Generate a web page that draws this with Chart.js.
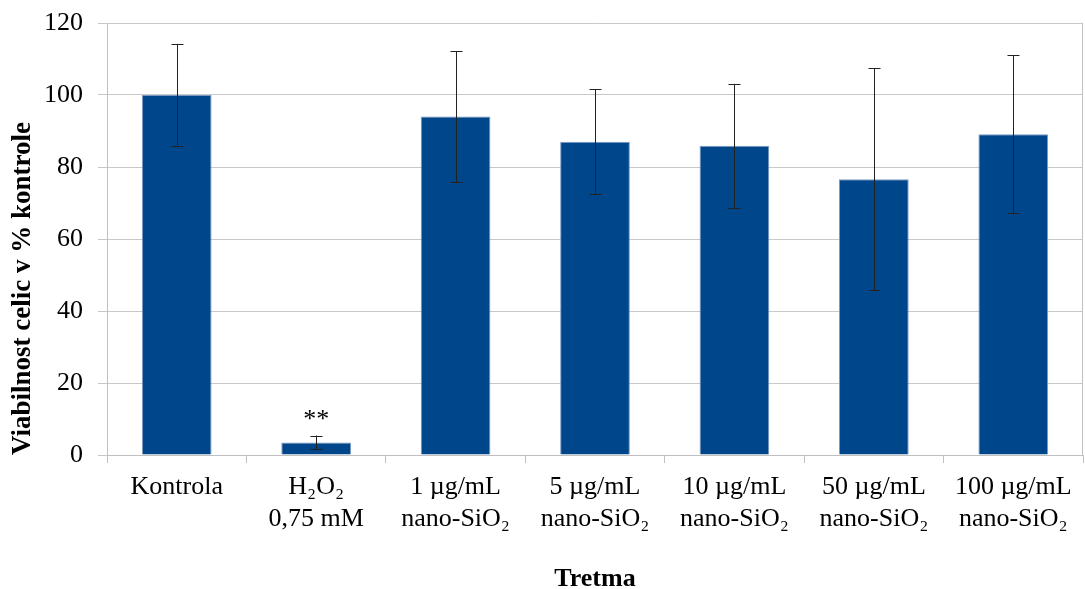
<!DOCTYPE html>
<html>
<head>
<meta charset="utf-8">
<script src="https://cdn.jsdelivr.net/npm/chart.js@4"></script>
<style>
  html, body { margin: 0; padding: 0; background: #fff; }
  #wrap { width: 1085px; height: 589px; position: relative; }
</style>
</head>
<body>
<div id="wrap"><canvas id="c" width="1085" height="589"></canvas></div>
<script>
const categories = [
  ['Kontrola'],
  ['H₂O₂', '0,75 mM'],
  ['1 µg/mL', 'nano-SiO₂'],
  ['5 µg/mL', 'nano-SiO₂'],
  ['10 µg/mL', 'nano-SiO₂'],
  ['50 µg/mL', 'nano-SiO₂'],
  ['100 µg/mL', 'nano-SiO₂']
];
const viability = [100, 3.5, 94.0, 87.0, 85.9, 76.6, 89.1];
const errors = [14.2, 1.9, 18.2, 14.6, 17.2, 30.9, 22.0];
const significance = ['', '**', '', '', '', '', ''];
const yTitle = 'Viabilnost celic v % kontrole';
const xTitle = 'Tretma';

const FONT = "'Liberation Serif', 'Times New Roman', serif";

const errorBarPlugin = {
  id: 'errorBars',
  afterDatasetsDraw(chart) {
    const ctx = chart.ctx;
    const meta = chart.getDatasetMeta(0);
    const y = chart.scales.y;
    ctx.save();
    ctx.strokeStyle = '#222';
    ctx.lineWidth = 1;
    meta.data.forEach((bar, i) => {
      const x = Math.round(bar.x) + 0.5;
      const top = y.getPixelForValue(viability[i] + errors[i]);
      const bot = y.getPixelForValue(viability[i] - errors[i]);
      ctx.beginPath();
      ctx.moveTo(x, top); ctx.lineTo(x, bot);
      ctx.moveTo(x - 6, Math.round(top) + 0.5); ctx.lineTo(x + 6, Math.round(top) + 0.5);
      ctx.moveTo(x - 6, Math.round(bot) + 0.5); ctx.lineTo(x + 6, Math.round(bot) + 0.5);
      ctx.stroke();
      if (significance[i]) {
        ctx.fillStyle = '#000';
        ctx.font = '26px ' + FONT;
        ctx.textAlign = 'center';
        ctx.textBaseline = 'alphabetic';
        ctx.fillText(significance[i], bar.x, top - 9);
      }
    });
    // right border of plot area
    const a = chart.chartArea;
    ctx.strokeStyle = '#c0c0c0';
    ctx.beginPath();
    ctx.moveTo(Math.round(a.right) - 0.5, a.top);
    ctx.lineTo(Math.round(a.right) - 0.5, a.bottom);
    ctx.stroke();
    ctx.restore();
  }
};

new Chart(document.getElementById('c'), {
  type: 'bar',
  data: {
    labels: categories,
    datasets: [{
      data: viability,
      backgroundColor: '#00468a',
      borderColor: '#7d99c2',
      borderWidth: 1,
      categoryPercentage: 0.5,
      barPercentage: 1.0
    }]
  },
  options: {
    responsive: false,
    animation: false,
    devicePixelRatio: 1,
    layout: { padding: { top: 23, right: 2, bottom: 0, left: 0 } },
    plugins: { legend: { display: false }, tooltip: { enabled: false } },
    scales: {
      x: {
        afterFit(scale) { scale.height = 134; scale.paddingLeft = 0; scale.paddingRight = 0; },
        grid: { offset: true, drawOnChartArea: false, drawTicks: true, tickLength: 8, color: '#c0c0c0' },
        border: { color: '#c0c0c0' },
        ticks: { color: '#000', font: { family: FONT, size: 26 }, padding: 9, maxRotation: 0, autoSkip: false },
        title: { display: true, text: xTitle, color: '#000', font: { family: FONT, size: 26, weight: 'bold' }, padding: { top: 0, bottom: -6 } }
      },
      y: {
        min: 0, max: 120,
        afterFit(scale) { scale.width = 107; scale.paddingTop = 0; scale.paddingBottom = 0; },
        grid: { color: '#c8c8c8', tickLength: 9 },
        border: { color: '#c0c0c0' },
        ticks: { stepSize: 20, color: '#000', font: { family: FONT, size: 26 }, padding: 15 },
        title: { display: true, text: yTitle, align: 'start', color: '#000', font: { family: FONT, size: 27, weight: 'bold' }, padding: { top: 7, bottom: 0 } }
      }
    }
  },
  plugins: [errorBarPlugin]
});
</script>
</body>
</html>
